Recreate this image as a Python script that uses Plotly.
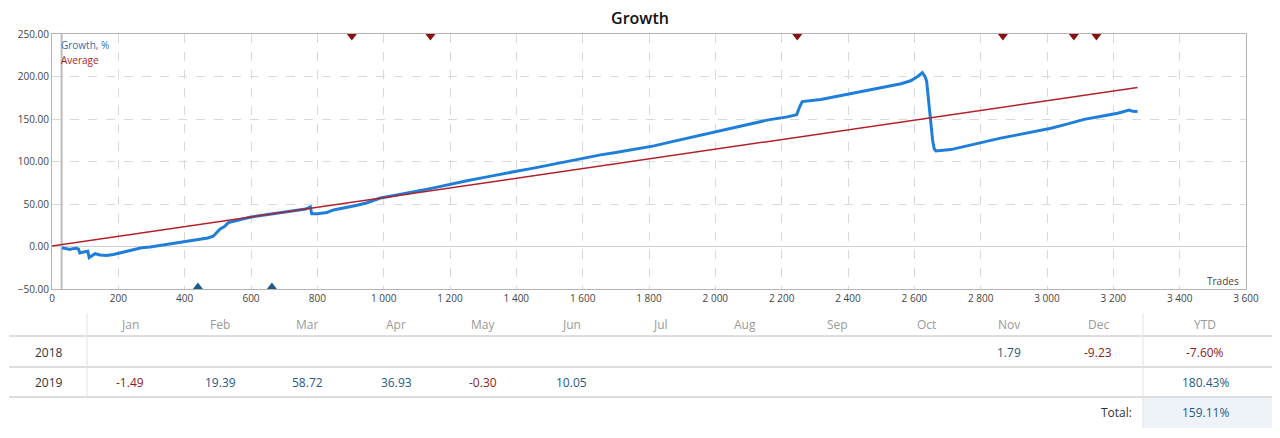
import plotly.graph_objects as go

# ---------------- data ----------------
growth_trades = [30, 45, 54, 62, 74, 80, 84, 95, 108, 112, 120, 130, 145, 165, 185, 205, 225, 245,
                 270, 296, 320, 346, 370, 396, 420, 447, 470, 486, 495, 507, 520, 531, 545, 557,
                 580, 597, 620, 648, 670, 698, 720, 748, 765, 779, 783, 800, 829, 849, 870, 899,
                 920, 950, 970, 990, 1020, 1050, 1100, 1151, 1200, 1251, 1300, 1352, 1400, 1452,
                 1500, 1553, 1600, 1654, 1700, 1754, 1815, 1860, 1915, 1960, 2016, 2060, 2116,
                 2160, 2217, 2245, 2255, 2262, 2318, 2370, 2418, 2470, 2518, 2560, 2589, 2610,
                 2624, 2632, 2637, 2643, 2649, 2655, 2660, 2665, 2710, 2760, 2810, 2860, 2911,
                 2960, 3012, 3060, 3112, 3160, 3213, 3248, 3258, 3273]
growth_values = [-1.5, -3.0, -3.5, -2.5, -2.0, -3.0, -7.5, -6.5, -5.5, -13.0, -10.5, -8.5, -10.0,
                 -10.5, -9.5, -7.5, -5.5, -3.5, -1.5, -0.5, 1.0, 2.3, 3.5, 5.0, 6.5, 8.2, 10.0,
                 12.0, 16.0, 20.7, 23.5, 27.8, 29.5, 30.8, 33.0, 34.4, 36.0, 37.5, 38.5, 40.2,
                 41.5, 42.5, 44.0, 46.5, 38.5, 38.5, 40.0, 43.0, 44.5, 46.8, 48.5, 51.5, 54.0,
                 57.0, 59.0, 61.0, 65.0, 69.0, 73.5, 77.3, 81.0, 85.2, 88.5, 92.2, 96.0, 100.0,
                 104.0, 107.8, 110.5, 114.0, 118.4, 122.5, 127.4, 131.5, 137.0, 140.5, 145.7,
                 149.0, 152.5, 155.0, 165.0, 170.5, 173.0, 177.0, 180.8, 184.5, 188.0, 191.5,
                 195.0, 200.0, 204.5, 200.0, 194.5, 170.0, 152.7, 125.4, 115.0, 112.5, 114.0,
                 118.5, 123.4, 127.5, 131.3, 135.0, 139.1, 144.0, 149.6, 153.0, 156.7, 160.5,
                 159.0, 158.8]
average_trades = [0, 3273]
average_values = [0.5, 187.0]

down_marker_trades = [904, 1141, 2247, 2867, 3081, 3149]
down_marker_level = [250] * len(down_marker_trades)
up_marker_trades = [440, 663]
up_marker_level = [-50] * len(up_marker_trades)
start_trade = 29

months = ["Jan", "Feb", "Mar", "Apr", "May", "Jun", "Jul", "Aug", "Sep", "Oct", "Nov", "Dec"]
years = ["2018", "2019"]
returns_2018 = [None, None, None, None, None, None, None, None, None, None, 1.79, -9.23]
returns_2019 = [-1.49, 19.39, 58.72, 36.93, -0.30, 10.05, None, None, None, None, None, None]
ytd_values = [-7.60, 180.43]
total_value = 159.11

# ---------------- layout constants ----------------
W, H = 1280, 438
L, R, T, B = 52, 1246, 34, 289
BLUE = "#1f7fd8"
RED = "#b3202a"
POS = "#1f5a86"
NEG = "#8e1b1b"
FONT = "Open Sans"


def px(x):
    return (x - L) / (R - L)


def py(y):
    return (B - y) / (B - T)


def text_ann(text, x, y, color, size=12, xanchor="center"):
    return dict(text=text, xref="paper", yref="paper", x=px(x), y=py(y),
                xanchor=xanchor, yanchor="middle", showarrow=False,
                font=dict(family=FONT, size=size, color=color))


fig = go.Figure()

fig.add_trace(go.Scatter(x=growth_trades, y=growth_values, mode="lines",
                         line=dict(color=BLUE, width=3), name="Growth, %"))
fig.add_trace(go.Scatter(x=average_trades, y=average_values, mode="lines",
                         line=dict(color=RED, width=1.5), name="Average"))
fig.add_trace(go.Scatter(x=down_marker_trades, y=down_marker_level, mode="markers",
                         marker=dict(symbol="triangle-down", size=13, color="#8b0f0f"),
                         cliponaxis=True))
fig.add_trace(go.Scatter(x=up_marker_trades, y=up_marker_level, mode="markers",
                         marker=dict(symbol="triangle-up", size=13, color="#1f5c86"),
                         cliponaxis=True))

shapes = []
# vertical start marker line
shapes.append(dict(type="line", xref="x", yref="y", x0=start_trade, x1=start_trade,
                   y0=-50, y1=250, line=dict(color="#bdbdbd", width=2), layer="below"))

# table lines
for yl in [336, 367, 397]:
    shapes.append(dict(type="line", xref="paper", yref="paper", x0=px(9), x1=px(1272),
                       y0=py(yl), y1=py(yl), line=dict(color="#dedede", width=2)))
shapes.append(dict(type="rect", xref="paper", yref="paper", x0=px(1143), x1=px(1272),
                   y0=py(398), y1=py(428), fillcolor="#eef3fa", line=dict(width=0), layer="below"))
shapes.append(dict(type="line", xref="paper", yref="paper", x0=px(87), x1=px(87),
                   y0=py(313), y1=py(397), line=dict(color="#e3e3e3", width=1)))
shapes.append(dict(type="line", xref="paper", yref="paper", x0=px(1143), x1=px(1143),
                   y0=py(313), y1=py(428), line=dict(color="#e3e3e3", width=1)))

annotations = []
annotations.append(text_ann("Growth, %", 59, 45, "#2f6db3", size=10, xanchor="left"))
annotations.append(text_ann("Average", 59, 60, "#b01c1c", size=10, xanchor="left"))
annotations.append(text_ann("Trades", 1241, 281, "#444", size=10, xanchor="right"))

col_x = [130, 220, 307, 396, 483, 571, 660, 745, 837, 926, 1009, 1098]
ytd_x = 1205
row_y = [352, 382]
head_y = 324
for m, cx in zip(months, col_x):
    annotations.append(text_ann(m, cx, head_y, "#9a9a9a"))
annotations.append(text_ann("YTD", ytd_x, head_y, "#9a9a9a"))

for yr, vals, ytd, ry in zip(years, [returns_2018, returns_2019], ytd_values, row_y):
    annotations.append(text_ann(yr, 49, ry, "#333"))
    for v, cx in zip(vals, col_x):
        if v is None:
            continue
        annotations.append(text_ann(f"{v:.2f}", cx, ry, NEG if v < 0 else POS))
    annotations.append(text_ann(f"{ytd:.2f}%", ytd_x, ry, NEG if ytd < 0 else POS))

annotations.append(text_ann("Total:", 1134, 412, "#333", xanchor="right"))
annotations.append(text_ann(f"{total_value:.2f}%", ytd_x, 412, POS))

fig.update_layout(
    width=W, height=H,
    margin=dict(l=L, r=W - R, t=T, b=H - B, pad=0),
    paper_bgcolor="white", plot_bgcolor="white",
    showlegend=False,
    separators=". ",
    font=dict(family=FONT, size=10, color="#444"),
    title=dict(text="Growth", x=0.5, xref="container", y=1 - 18 / H, yref="container",
               xanchor="center", yanchor="middle",
               font=dict(family=FONT, size=16, color="#111", weight=600)),
    xaxis=dict(range=[0, 3600], tickvals=list(range(0, 3601, 200)), tickformat=",",
               showgrid=True, gridcolor="#d9d9d9", griddash="dash", gridwidth=1,
               showline=True, linecolor="#b4b4b4", linewidth=1, mirror=True,
               zeroline=False, ticks="", tickfont=dict(family=FONT, size=10, color="#444")),
    yaxis=dict(range=[-50, 250], tickvals=list(range(-50, 251, 50)), tickformat=".2f",
               showgrid=True, gridcolor="#d9d9d9", griddash="dash", gridwidth=1,
               zeroline=True, zerolinecolor="#d0d0d0", zerolinewidth=1,
               showline=True, linecolor="#b4b4b4", linewidth=1, mirror=True,
               ticks="", tickfont=dict(family=FONT, size=10, color="#444")),
    shapes=shapes,
    annotations=annotations,
)

fig.write_html("out.html")
